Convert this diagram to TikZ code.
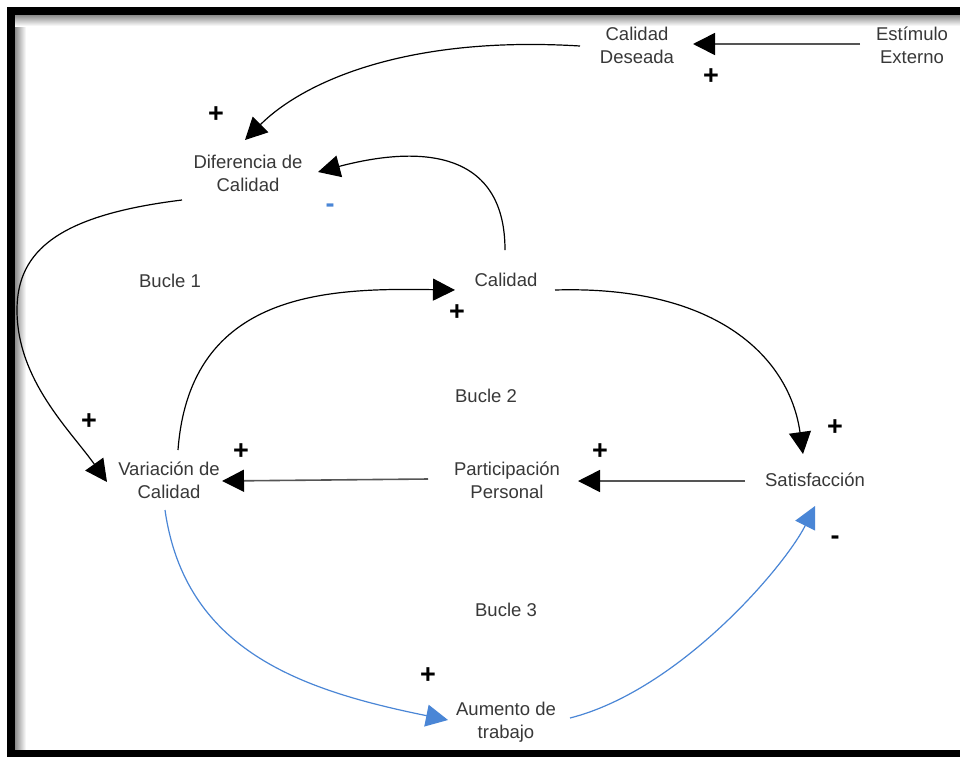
\documentclass[tikz,border=0pt]{standalone}
\usepackage{fontspec}
\setmainfont{Liberation Sans}
\usetikzlibrary{arrows.meta,calc}
\definecolor{txt}{HTML}{383838}
\definecolor{lnk}{HTML}{4A86D6}
\definecolor{straight}{HTML}{555555}
\begin{document}
\begin{tikzpicture}[x=1pt,y=-1pt,
  lbl/.style={text=txt,align=center,inner sep=0pt,font=\fontsize{18.5}{23}\selectfont},
  sign/.style={inner sep=0pt,font=\fontsize{27}{27}\selectfont\bfseries},
  curvelink/.style={draw=black,line width=1.2pt,-{Triangle[length=22pt,width=22pt,color=black]}},
  flatlink/.style={draw=straight,line width=1.6pt,-{Triangle[length=22pt,width=22pt,color=black]}},
  bluelink/.style={draw=lnk,line width=1.2pt,-{Triangle[length=22pt,width=22pt,color=lnk]}}]
\useasboundingbox (0,0) rectangle (960,756);
\fill[white] (0,0) rectangle (960,756);
% soft inner shadow of the frame
\shade[left color=black!45,right color=white] (15,15) rectangle (26,750);
\shade[top color=black!45,bottom color=white] (15,15) rectangle (960,26);
% frame
\draw[line width=8pt] (11,770) -- (11,11) -- (975,11);
\draw[line width=8pt] (7,754) -- (975,754);

% variables
\node[lbl] (deseada)  at (637,45)  {Calidad\\Deseada};
\node[lbl] (estimulo) at (912,45)  {Estímulo\\Externo};
\node[lbl] (dif)      at (248,173) {Diferencia de\\Calidad};
\node[lbl] (calidad)  at (506,280) {Calidad};
\node[lbl] (var)      at (169,480) {Variación de\\Calidad};
\node[lbl] (part)     at (507,480) {Participación\\Personal};
\node[lbl] (sat)      at (815,480) {Satisfacción};
\node[lbl] (aum)      at (506,722) {Aumento de\\trabajo};

% loop names
\node[lbl] (b1) at (170,281) {Bucle 1};
\node[lbl] (b2) at (486,396) {Bucle 2};
\node[lbl] (b3) at (506,610) {Bucle 3};

% links
\draw[flatlink] ($(estimulo)+(-52,-1)$) -- ($(deseada)+(56,-1)$);
\draw[curvelink] ($(deseada)+(-57,1)$) .. controls (400,35) and (300,85) .. ($(dif)+(-3,-33)$);
\draw[curvelink] ($(calidad)+(-1,-30)$) .. controls (505,150) and (420,145) .. ($(dif)+(70,-1)$);
\draw[curvelink] ($(dif)+(-66,27)$) .. controls (60,215) and (17,250) .. (17,310)
                 .. controls (17,380) and (70,430) .. ($(var)+(-62,2)$);
\draw[curvelink] ($(var)+(9,-30)$) .. controls (190,290) and (330,288) .. ($(calidad)+(-51,10)$);
\draw[curvelink] ($(calidad)+(49,10)$) .. controls (720,285) and (790,360) .. ($(sat)+(-12,-26)$);
\draw[flatlink] ($(sat)+(-70,1)$) -- ($(part)+(71,1)$);
\draw[flatlink] ($(part)+(-79,-1)$) -- ($(var)+(53,1)$);
\draw[bluelink] ($(var)+(-4,30)$) .. controls (185,650) and (300,690) .. ($(aum)+(-58,-2)$);
\draw[bluelink] ($(aum)+(64,-4)$) .. controls (680,690) and (785,566) .. ($(sat)+(0,26)$);

% polarities
\node[sign] (s1) at (711,77)  {+};
\node[sign] (s2) at (216,115) {+};
\node[sign,text=lnk] (s3) at (330,208) {-};
\node[sign] (s4) at (457,313) {+};
\node[sign] (s5) at (89,422)  {+};
\node[sign] (s6) at (241,452) {+};
\node[sign] (s7) at (600,452) {+};
\node[sign] (s8) at (835,428) {+};
\node[sign] (s9) at (835,540) {-};
\node[sign] (s10) at (428,676) {+};
\end{tikzpicture}
\end{document}
